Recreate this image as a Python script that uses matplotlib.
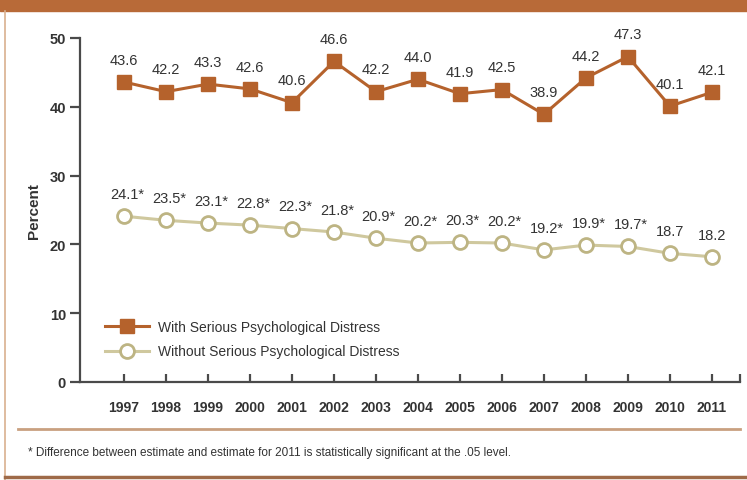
import matplotlib
matplotlib.use('Agg')
from matplotlib import pyplot as plt
from matplotlib.lines import Line2D

years = [1997, 1998, 1999, 2000, 2001, 2002, 2003, 2004, 2005, 2006, 2007, 2008, 2009, 2010, 2011]
with_spd = [43.6, 42.2, 43.3, 42.6, 40.6, 46.6, 42.2, 44.0, 41.9, 42.5, 38.9, 44.2, 47.3, 40.1, 42.1]
without_spd = [24.1, 23.5, 23.1, 22.8, 22.3, 21.8, 20.9, 20.2, 20.3, 20.2, 19.2, 19.9, 19.7, 18.7, 18.2]
# significance flags for the "without" series
signif = [1, 1, 1, 1, 1, 1, 1, 1, 1, 1, 1, 1, 1, 0, 0]
yticks = [0, 10, 20, 30, 40, 50]

orange = '#B5622C'
olive = '#BDB483'
text_col = '#333333'

plt.rcParams['font.family'] = ['Liberation Sans', 'DejaVu Sans']

fig = plt.figure(figsize=(7.47, 4.81), dpi=100)
ax = fig.add_axes([80/747, 1-383/481, 660/747, 344/481])

ax.plot(years, with_spd, color=orange, lw=2.2, marker='s', ms=10,
        mfc=orange, mec=orange, zorder=3, clip_on=False)
ax.plot(years, without_spd, color='#CFC89E', lw=2.2, marker='o', ms=10,
        mfc='white', mec=olive, mew=2, zorder=3, clip_on=False)

for x, v in zip(years, with_spd):
    ax.annotate('%.1f' % v, (x, v), xytext=(0, 16), textcoords='offset points',
                ha='center', va='center', fontsize=10.5, color=text_col)
for x, v, s in zip(years, without_spd, signif):
    ax.annotate('%.1f' % v + ('*' if s else ''), (x, v), xytext=(2 if s else 0, 16),
                textcoords='offset points', ha='center', va='center',
                fontsize=10.5, color=text_col)

ax.set_xlim(1995.95, 2011.67)
ax.set_ylim(0, 50)
ax.set_yticks(yticks)
ax.set_yticklabels([str(t) for t in yticks], fontsize=10.5, fontweight='bold', color=text_col)
ax.set_xticks(years)
ax.set_xticklabels([str(y) for y in years], fontsize=10, fontweight='bold', color=text_col)
ax.set_xticks([2011.67], minor=True)

for s in ['top', 'right']:
    ax.spines[s].set_visible(False)
for s in ['left', 'bottom']:
    ax.spines[s].set_color('#4a4a4a')
    ax.spines[s].set_linewidth(1.6)
ax.tick_params(axis='y', direction='out', length=7, width=1.6, color='#4a4a4a', pad=3)
ax.tick_params(axis='x', which='both', direction='in', length=6, width=1.6, color='#4a4a4a', pad=13)
ax.set_ylabel('Percent', fontsize=11, fontweight='bold', color=text_col, labelpad=6)

handles = [
    Line2D([], [], color=orange, lw=2.2, marker='s', ms=10, mfc=orange, mec=orange),
    Line2D([], [], color='#CFC89E', lw=2.2, marker='o', ms=10, mfc='white', mec=olive, mew=2),
]
ax.legend(handles, ['With Serious Psychological Distress', 'Without Serious Psychological Distress'],
          loc='lower left', bbox_to_anchor=(0.019, 0.032), frameon=False, fontsize=10,
          handlelength=3.2, labelspacing=0.75, handletextpad=0.6, labelcolor=text_col)

# page decoration
fig.patches.append(plt.Rectangle((0, 1-12/481), 1, 12/481, transform=fig.transFigure,
                                 color='#B86A38', zorder=0))
fig.add_artist(Line2D([5/747, 5/747], [0, 1-12/481], color='#D9B08F', lw=1.2))
fig.add_artist(Line2D([18/747, 740/747], [1-430/481, 1-430/481], color='#C9A080', lw=2))
fig.add_artist(Line2D([5/747, 1], [1-478/481, 1-478/481], color='#9E6A48', lw=2.5))
fig.text(28/747, 1-453/481,
         '* Difference between estimate and estimate for 2011 is statistically significant at the .05 level.',
         fontsize=8.5, color=text_col, va='center', ha='left')

fig.savefig('out.png', dpi=100)
